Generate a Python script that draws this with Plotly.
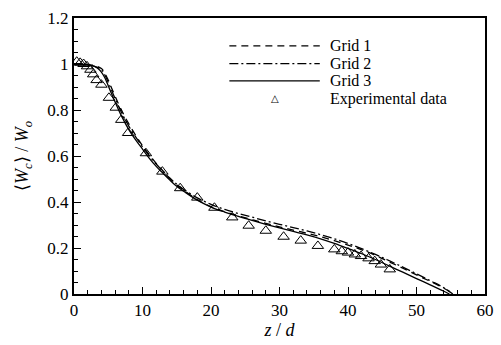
import plotly.graph_objects as go

# Grid 1 (dashed)
x1 = [0, 1, 2, 3, 4, 4.5, 5, 5.5, 6, 7, 8, 9, 10, 11, 12, 13, 14, 15, 16, 18, 20, 22, 24, 26, 28, 30, 32, 34, 36, 38, 40, 42, 44, 46, 48, 50, 52, 54, 55.5]
y1 = [1.0, 1.0, 0.997, 0.993, 0.98, 0.96, 0.93, 0.895, 0.86, 0.795, 0.74, 0.69, 0.645, 0.605, 0.568, 0.535, 0.503, 0.475, 0.452, 0.41, 0.38, 0.358, 0.34, 0.323, 0.307, 0.292, 0.278, 0.264, 0.249, 0.232, 0.213, 0.192, 0.168, 0.14, 0.112, 0.083, 0.055, 0.025, 0.0]
# Grid 2 (dash-dot)
x2 = [0, 1, 2, 3, 4, 4.5, 5, 5.5, 6, 7, 8, 9, 10, 11, 12, 13, 14, 15, 16, 18, 20, 22, 24, 26, 28, 30, 32, 34, 36, 38, 40, 42, 44, 46, 48, 50, 52, 54, 55.3]
y2 = [1.0, 1.0, 0.996, 0.99, 0.975, 0.952, 0.92, 0.885, 0.85, 0.785, 0.73, 0.683, 0.64, 0.6, 0.565, 0.533, 0.503, 0.477, 0.455, 0.418, 0.39, 0.368, 0.35, 0.334, 0.318, 0.303, 0.289, 0.274, 0.258, 0.24, 0.22, 0.197, 0.172, 0.145, 0.117, 0.088, 0.058, 0.027, 0.0]
# Grid 3 (solid)
x3 = [0, 1, 2, 3, 3.5, 4, 4.5, 5, 5.5, 6, 7, 8, 9, 10, 11, 12, 13, 14, 15, 16, 18, 20, 22, 24, 26, 28, 30, 32, 34, 36, 38, 40, 42, 44, 46, 48, 50, 52, 54, 54.8]
y3 = [1.0, 1.0, 0.995, 0.99, 0.98, 0.965, 0.94, 0.905, 0.87, 0.835, 0.77, 0.715, 0.67, 0.63, 0.59, 0.555, 0.525, 0.495, 0.468, 0.447, 0.408, 0.378, 0.356, 0.337, 0.32, 0.303, 0.287, 0.272, 0.257, 0.24, 0.22, 0.198, 0.175, 0.15, 0.122, 0.095, 0.067, 0.04, 0.012, 0.0]
# Experimental data
xe = [0.4, 0.9, 1.4, 1.9, 2.4, 2.8, 3.3, 4.0, 5.1, 6.1, 6.9, 7.9, 10.5, 12.9, 15.5, 18.0, 20.5, 23.1, 25.5, 28.0, 30.6, 33.1, 35.6, 38.0, 39.1, 40.0, 41.0, 41.9, 43.0, 43.9, 44.8, 46.1]
ye = [1.01, 1.005, 1.0, 0.99, 0.975, 0.955, 0.93, 0.91, 0.853, 0.81, 0.757, 0.70, 0.612, 0.532, 0.46, 0.419, 0.375, 0.333, 0.297, 0.275, 0.249, 0.232, 0.209, 0.194, 0.186, 0.18, 0.172, 0.165, 0.155, 0.143, 0.128, 0.107]

names = ["Grid 1", "Grid 2", "Grid 3", "Experimental data"]
dashes = ["7px,5px", "9px,3px,2px,3px", "solid"]

FONT = "Liberation Serif, Times New Roman, serif"

fig = go.Figure()
for xs, ys, nm, d in [(x1, y1, names[0], dashes[0]), (x2, y2, names[1], dashes[1]), (x3, y3, names[2], dashes[2])]:
    fig.add_trace(go.Scatter(x=xs, y=ys, mode="lines", name=nm, line=dict(color="black", width=1.3, dash=d), line_shape="spline", showlegend=False))
fig.add_trace(go.Scatter(x=xe, y=ye, mode="markers", name=names[3],
                         marker=dict(symbol="triangle-up-open", size=10, color="black", line=dict(width=1)),
                         showlegend=False))

# manual legend
rows = [0.899, 0.835, 0.772, 0.708]
for i in range(3):
    fig.add_shape(type="line", xref="paper", yref="paper", x0=0.378, x1=0.598, y0=rows[i], y1=rows[i],
                  line=dict(color="black", width=1.3, dash=dashes[i]))
fig.add_annotation(xref="paper", yref="paper", x=0.488, y=rows[3], text="△", showarrow=False, borderpad=0,
                   font=dict(family="DejaVu Sans", size=10, color="black"), xanchor="center", yanchor="middle")
for i in range(4):
    fig.add_annotation(xref="paper", yref="paper", x=0.621, y=rows[i], text=names[i], showarrow=False, borderpad=0,
                       font=dict(family=FONT, size=16, color="black"), xanchor="left", yanchor="middle")

fig.update_layout(
    width=501, height=345,
    margin=dict(l=74, r=7, t=18, b=51),
    paper_bgcolor="white", plot_bgcolor="white",
    font=dict(family=FONT, size=17, color="black"),
)
fig.update_xaxes(range=[0, 60], tickvals=[0, 10, 20, 30, 40, 50, 60], ticks="inside", ticklen=7, tickwidth=1.2,
                 tickcolor="black", showline=True, linecolor="black", linewidth=2, mirror=True,
                 showgrid=False, zeroline=False,
                 tickfont=dict(family=FONT, size=17),
                 minor=dict(dtick=2, ticks="inside", ticklen=4, tickcolor="black", tickwidth=1),
                 title=dict(text="<i>z</i> / <i>d</i>", font=dict(family=FONT, size=18), standoff=4))
fig.update_yaxes(range=[0, 1.2], tickvals=[0, 0.2, 0.4, 0.6, 0.8, 1.0, 1.2], ticktext=["0", "0.2", "0.4", "0.6", "0.8", "1", "1.2"],
                 ticks="inside", ticklen=7, tickwidth=1.2,
                 tickcolor="black", showline=True, linecolor="black", linewidth=2, mirror=True,
                 showgrid=False, zeroline=False,
                 tickfont=dict(family=FONT, size=17),
                 minor=dict(dtick=0.05, ticks="inside", ticklen=4, tickcolor="black", tickwidth=1),
                 title=dict(text="⟨<i>W<sub>c</sub></i>⟩ / <i>W<sub>o</sub></i>", font=dict(family=FONT, size=18), standoff=14))

fig.write_html("out.html")
